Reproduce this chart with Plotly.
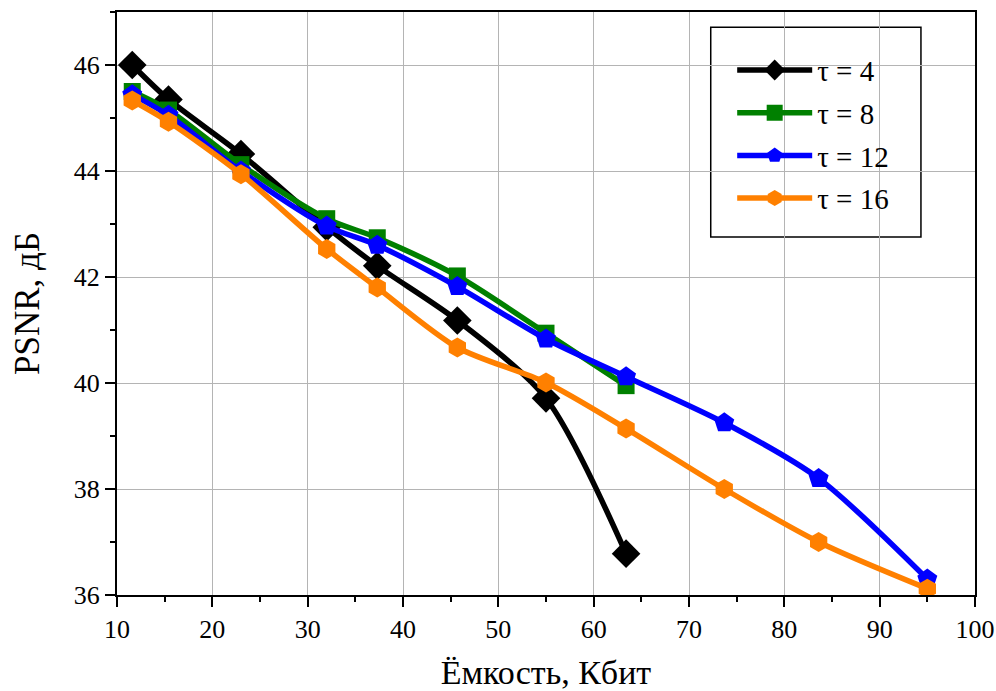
import plotly.graph_objects as go

# Embedding capacity, kbit
capacity = [11.6, 15.4, 23.0, 32.0, 37.3, 45.7, 55.0, 63.4, 73.7, 83.6, 95.0]

# PSNR, dB for each threshold tau
psnr_tau4 = [46.0, 45.35, 44.32, 42.94, 42.21, 41.18, 39.71, 36.78]
psnr_tau8 = [45.5, 45.15, 44.12, 43.1, 42.74, 42.02, 40.94, 39.95]
psnr_tau12 = [45.44, 45.05, 44.0, 42.96, 42.6, 41.82, 40.83, 40.12, 39.25, 38.2, 36.3]
psnr_tau16 = [45.33, 44.93, 43.94, 42.53, 41.8, 40.67, 40.01, 39.14, 38.0, 37.0, 36.12]

series = [
    ("τ = 4", psnr_tau4, "#000000", "diamond", 22),
    ("τ = 8", psnr_tau8, "#008000", "square", 17),
    ("τ = 12", psnr_tau12, "#0000FF", "pentagon", 21),
    ("τ = 16", psnr_tau16, "#FF8000", "hexagon", 20),
]

x_ticks = list(range(10, 101, 10))
y_ticks = list(range(36, 47, 2))

serif = "Times New Roman, Liberation Serif, serif"

fig = go.Figure()
for name, ys, color, symbol, size in series:
    fig.add_trace(go.Scatter(
        x=capacity[:len(ys)], y=ys, name=name, legendgroup=name,
        mode="lines+markers",
        line=dict(color=color, width=5.5, shape="spline", smoothing=0.8),
        marker=dict(symbol=symbol, size=size, color=color, line=dict(width=0)),
    ))

axis_common = dict(
    showline=True, linecolor="black", linewidth=2, mirror=True,
    ticks="outside", ticklen=10, tickwidth=1.5, tickcolor="black",
    showgrid=True, gridcolor="#b4b4b4", gridwidth=1.2,
    zeroline=False, automargin=False,
    tickfont=dict(family=serif, size=26, color="black"),
)

fig.update_xaxes(
    range=[10, 100], tickvals=x_ticks,
    minor=dict(dtick=5, ticks="outside", ticklen=5, tickwidth=1.5,
               tickcolor="black", showgrid=False),
    title=dict(text="Ёмкость, Кбит", font=dict(family=serif, size=34, color="black"),
               standoff=20),
    **axis_common,
)
fig.update_yaxes(
    range=[36, 47], tickvals=y_ticks,
    minor=dict(dtick=1, ticks="outside", ticklen=5, tickwidth=1.5,
               tickcolor="black", showgrid=False),
    title=dict(text="PSNR, дБ", font=dict(family=serif, size=35, color="black"),
               standoff=24),
    **axis_common,
)

# Legend frame
fig.add_shape(type="rect", xref="paper", yref="paper",
              x0=0.692, x1=0.937, y0=0.614, y1=0.974,
              line=dict(color="black", width=1.5), fillcolor="white", layer="below")

fig.update_layout(
    width=996, height=691,
    margin=dict(l=117, r=21, t=12, b=96),
    plot_bgcolor="white", paper_bgcolor="white",
    font=dict(family=serif, color="black"),
    legend=dict(
        x=0.717, y=0.944, xanchor="left", yanchor="top",
        borderwidth=0, bgcolor="rgba(0,0,0,0)",
        font=dict(family=serif, size=29, color="black"),
        itemsizing="trace", itemwidth=75,
        tracegroupgap=2,
    ),
)

fig.write_html("out.html")
